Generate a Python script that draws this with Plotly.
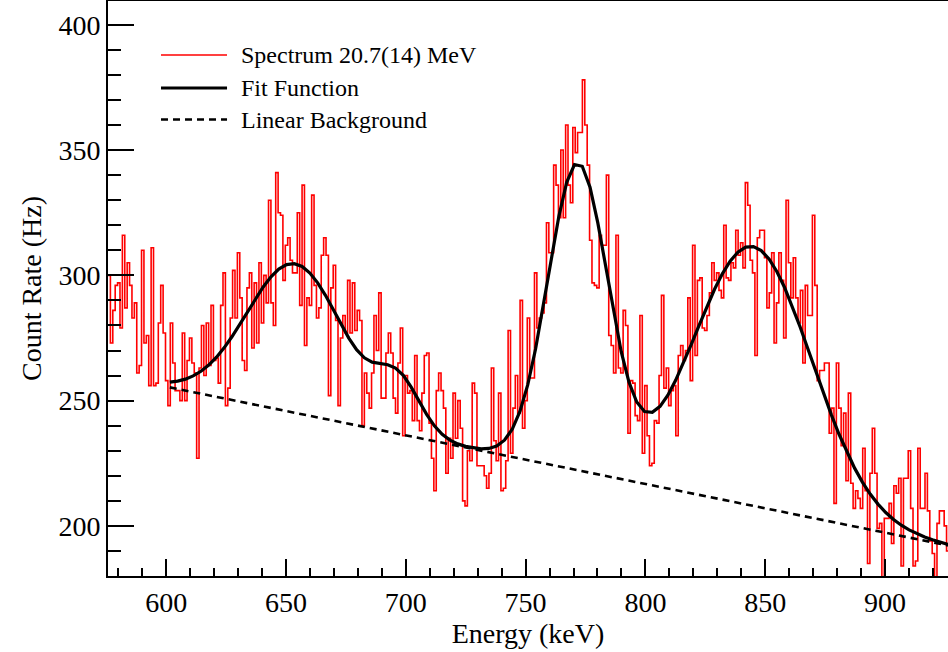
import numpy as np
import plotly.graph_objects as go

# ---------------- data ----------------
bin_low_edge = 575.7   # keV, low edge of first bin
bin_width = 1.0        # keV
# count rate (Hz) per 1 keV bin, 576 ... 926 keV
count_rate = [
    300, 273, 286, 296, 297, 279, 316, 287, 305, 296,
    283, 289, 261, 264, 310, 273, 276, 256, 311, 256,
    257, 281, 296, 277, 258, 248, 281, 265, 254, 254,
    250, 277, 250, 266, 275, 265, 261, 227, 263, 280,
    260, 281, 264, 288, 266, 267, 257, 288, 301, 248,
    255, 283, 302, 283, 309, 291, 266, 262, 295, 301,
    271, 297, 273, 305, 281, 300, 289, 330, 289, 280,
    # 646 - 713
    341, 325, 324, 298, 312, 315, 306, 301, 301, 325,
    288, 336, 272, 291, 288, 332, 296, 283, 287, 308,
    315, 308, 252, 295, 304, 282, 248, 275, 284, 277,
    298, 277, 297, 278, 286, 282, 240, 261, 253, 247,
    261, 284, 270, 293, 251, 251, 269, 277, 269, 251,
    245, 265, 279, 236, 260, 253, 254, 242, 268, 242,
    238, 253, 268, 269, 241, 227, 214, 254,
    # 714 - 783
    261, 254, 247, 221, 235, 227, 253, 235, 250, 239,
    210, 208, 230, 226, 257, 253, 224, 224, 224, 220,
    215, 221, 263, 234, 226, 253, 214, 215, 226, 278,
    229, 247, 260, 245, 290, 239, 250, 283, 259, 259,
    301, 279, 283, 285, 289, 321, 309, 309, 344, 336,
    323, 350, 323, 360, 336, 329, 359, 349, 357, 357,
    378, 360, 344, 314, 297, 296, 295, 316, 312, 312,
    # 784 - 822
    340, 276, 272, 261, 316, 263, 261, 286, 280, 237,
    258, 257, 244, 242, 284, 229, 256, 236, 224, 225,
    242, 241, 260, 292, 255, 263, 248, 254, 256, 236,
    268, 272, 266, 270, 291, 258, 312, 268, 298,
    # 823 - 878
    299, 279, 278, 284, 293, 305, 298, 301, 294, 291,
    320, 299, 298, 305, 303, 318, 308, 313, 303, 337,
    328, 306, 301, 268, 315, 318, 318, 307, 287, 293,
    309, 273, 289, 309, 298, 275, 330, 305, 291, 307,
    291, 281, 294, 265, 296, 284, 284, 324, 296, 258,
    262, 262, 265, 265, 237, 247,
    # 879 - 926
    209, 265, 247, 232, 245, 218, 253, 217, 207, 214,
    211, 207, 231, 214, 185, 221, 239, 221, 199, 201,
    175, 203, 203, 209, 193, 216, 213, 219, 184, 219,
    219, 230, 207, 184, 186, 231, 207, 207, 221, 206,
    194, 189, 175, 201, 206, 206, 200, 190,
]

# fit function: linear background + 4 gaussians
fit_range = [601.5, 926.3]
fit_npx = 100
bg_p0 = 372.09      # Hz
bg_p1 = -0.1942     # Hz / keV
peak_centers = [654.0, 697.0, 771.8, 845.0]
peak_amplitudes = [59.5, 19.0, 121.5, 103.5]
peak_sigmas = [20.3, 9.2, 12.5, 24.5]

x_range = [575.7, 926.3]
y_range = [180, 409.5]

legend_labels = ["Spectrum 20.7(14) MeV", "Fit Function", "Linear Background"]

# ---------------- build ----------------
n = len(count_rate)
edges = bin_low_edge + bin_width * np.arange(n + 1)
step_y = list(count_rate) + [count_rate[-1]]

xf = np.linspace(fit_range[0], fit_range[1], fit_npx + 1)
bg = bg_p0 + bg_p1 * xf
fit = bg.copy()
for c, a, s in zip(peak_centers, peak_amplitudes, peak_sigmas):
    fit = fit + a * np.exp(-0.5 * ((xf - c) / s) ** 2)

FONT = "Liberation Serif, Times New Roman, serif"
RED = "#ff0000"

fig = go.Figure()
fig.add_trace(go.Scatter(x=edges, y=step_y, mode="lines", line_shape="hv",
                         line=dict(color=RED, width=1.6), name=legend_labels[0],
                         showlegend=False))
fig.add_trace(go.Scatter(x=xf, y=bg, mode="lines",
                         line=dict(color="black", width=2.6, dash="7px,5px"),
                         name=legend_labels[2], showlegend=False))
fig.add_trace(go.Scatter(x=xf, y=fit, mode="lines",
                         line=dict(color="black", width=3.2),
                         name=legend_labels[1], showlegend=False))

# custom legend (ROOT style)
leg_x0, leg_x1, leg_tx = 0.0631, 0.1417, 0.1560
leg_rows = [0.9061, 0.8487, 0.7939]
leg_styles = [dict(color=RED, width=1.6), dict(color="black", width=3.2),
              dict(color="black", width=2.6, dash="7px,5px")]
for lab, yy, st in zip(legend_labels, leg_rows, leg_styles):
    fig.add_shape(type="line", xref="paper", yref="paper", x0=leg_x0, x1=leg_x1,
                  y0=yy, y1=yy, line=st)
    fig.add_annotation(xref="paper", yref="paper", x=leg_tx, y=yy, text=lab,
                       showarrow=False, xanchor="left", yanchor="middle",
                       font=dict(family=FONT, size=24, color="black"))

fig.update_layout(
    width=948, height=652,
    margin=dict(l=108, r=0, t=1, b=76),
    paper_bgcolor="white", plot_bgcolor="white",
    font=dict(family=FONT, size=28, color="black"),
    showlegend=False,
)
fig.update_xaxes(
    range=x_range, showgrid=False, zeroline=False,
    showline=True, linecolor="black", linewidth=2, mirror=True,
    ticks="inside", ticklen=17, tickwidth=1.5, tickcolor="black",
    dtick=50, tick0=600,
    minor=dict(ticks="inside", ticklen=8, tickwidth=1.5, tickcolor="black", dtick=10, tick0=600),
    tickfont=dict(family=FONT, size=28),
    title=dict(text="Energy (keV)", font=dict(family=FONT, size=28), standoff=5),
)
fig.update_yaxes(
    range=y_range, showgrid=False, zeroline=False,
    showline=True, linecolor="black", linewidth=2,
    ticks="inside", ticklen=26, tickwidth=1.5, tickcolor="black",
    dtick=50, tick0=200,
    minor=dict(ticks="inside", ticklen=13, tickwidth=1.5, tickcolor="black", dtick=10, tick0=200),
    tickfont=dict(family=FONT, size=28),
    title=dict(text="Count Rate (Hz)", font=dict(family=FONT, size=28), standoff=9),
)

fig.write_html("out.html")
